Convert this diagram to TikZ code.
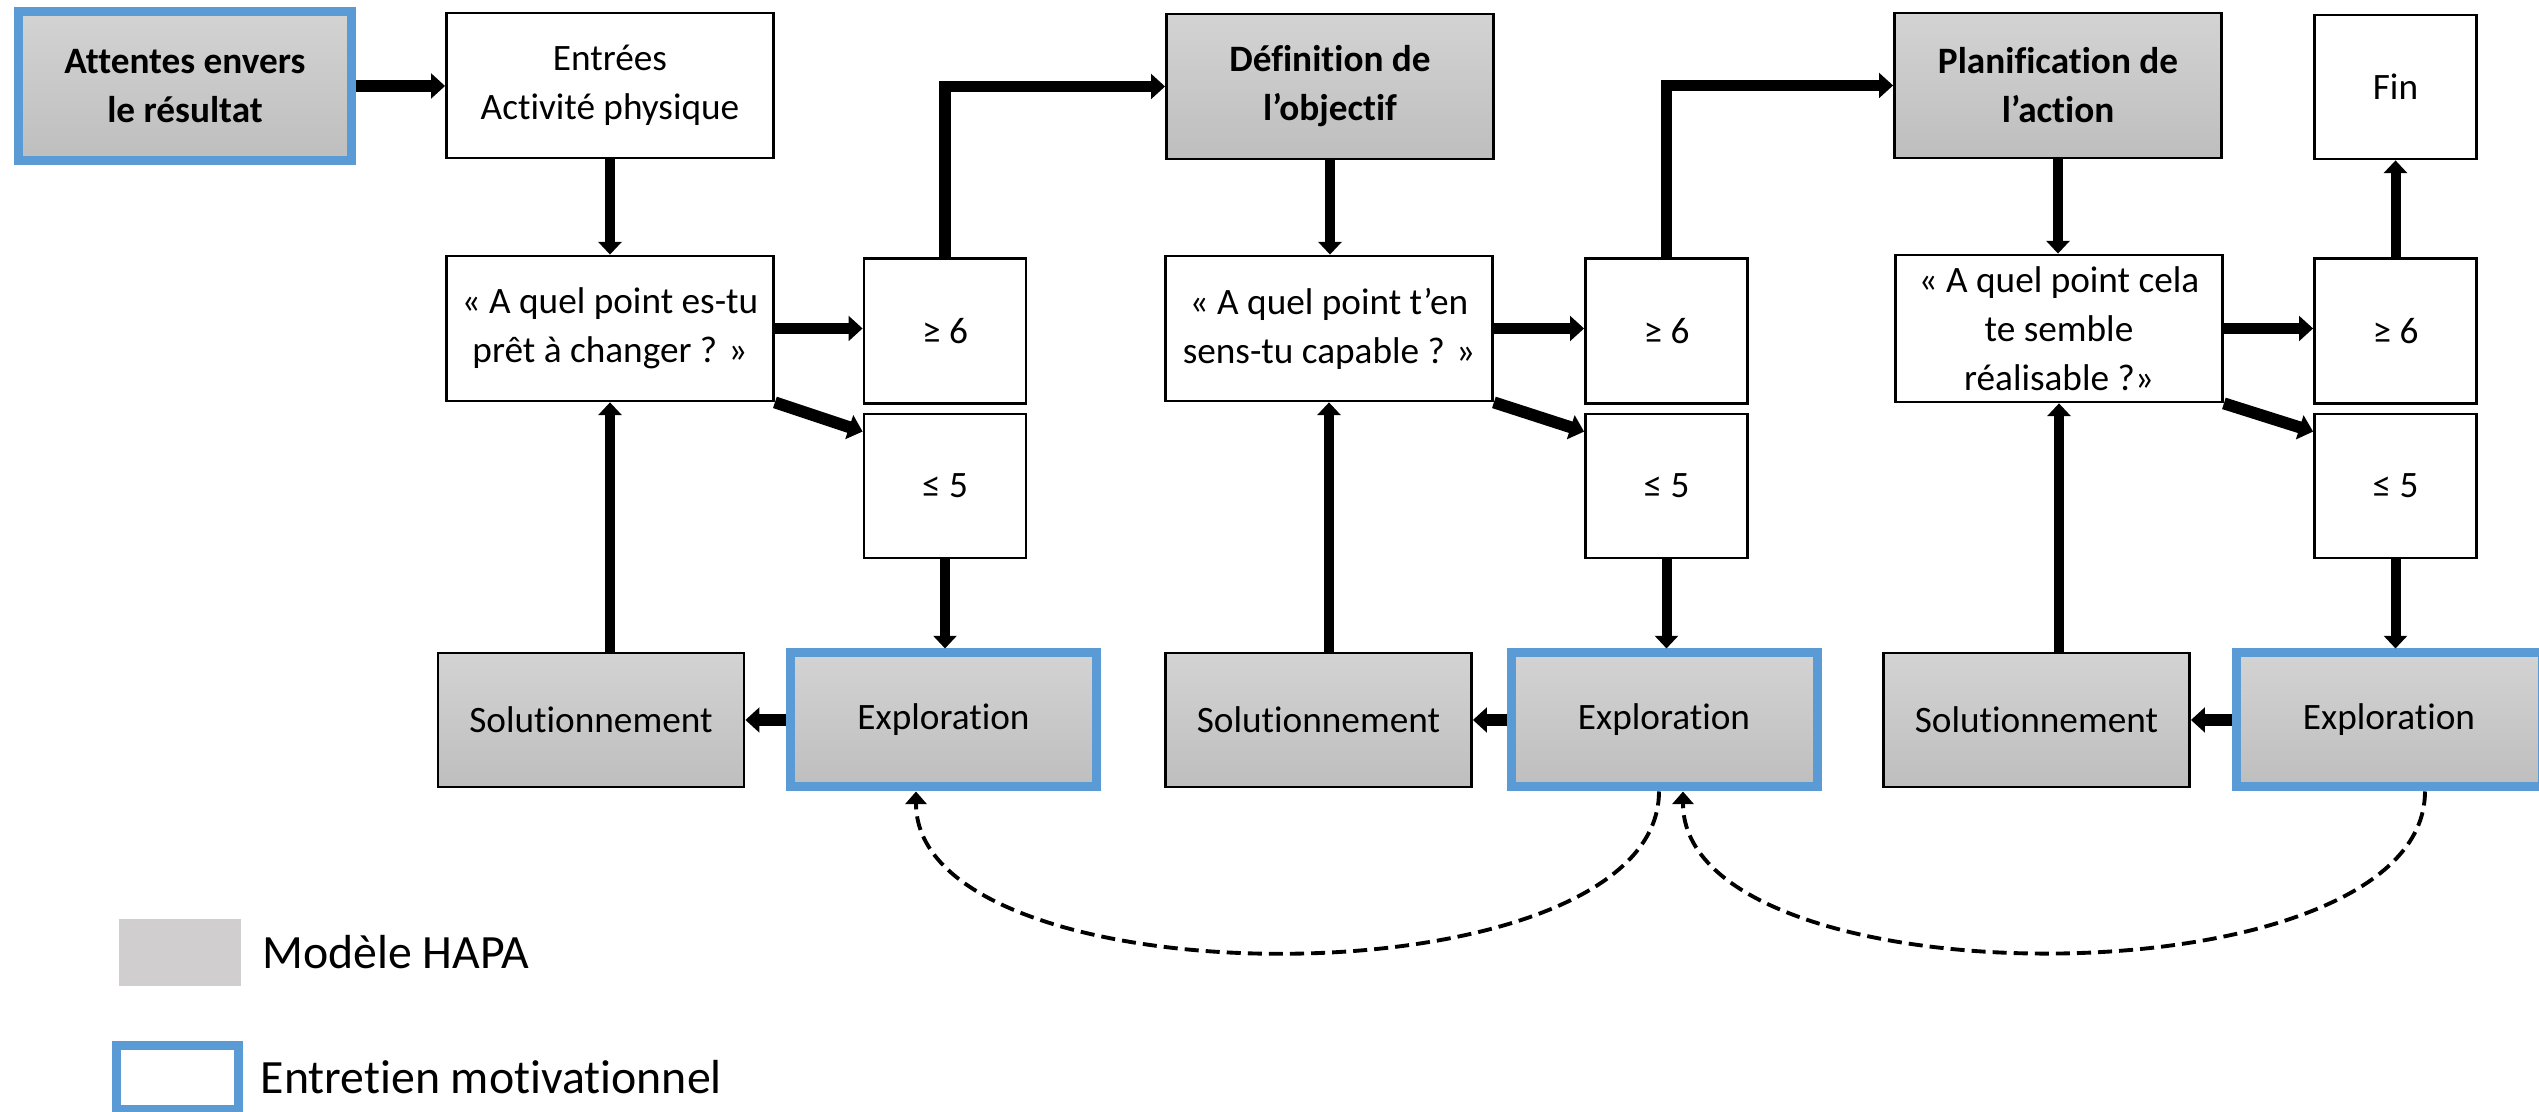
\documentclass[tikz,border=0pt]{standalone}
\usepackage{fontspec}
\setmainfont{Carlito}[Ligatures=NoCommon]
\usepackage{xcolor}
\usepackage{tikz}
\usetikzlibrary{arrows.meta,calc,positioning}

\definecolor{mibleu}{HTML}{5B9BD5}
\definecolor{grishaut}{HTML}{D3D3D3}
\definecolor{grisbas}{HTML}{BEBEBE}
\definecolor{grislegende}{HTML}{D0CECE}

\begin{document}
\begin{tikzpicture}[
    font={\fontsize{10.6}{13.9}\selectfont},
    boite/.style={draw=black, line width=0.8pt, align=center, inner sep=2pt},
    grande/.style={boite, minimum width=3.27cm, minimum height=1.45cm},
    petite/.style={boite, minimum width=1.62cm, minimum height=1.45cm},
    hapa/.style={grande, top color=grishaut, bottom color=grisbas, font={\fontsize{10.6}{13.9}\selectfont\bfseries}},
    basse/.style={boite, top color=grishaut, bottom color=grisbas, minimum width=3.06cm, minimum height=1.34cm},
    em/.style={draw=mibleu, line width=2.56pt},
    fl/.style={line width=2.85pt, -{Triangle[width=6.5pt,length=3.6pt]}},
    flg/.style={line width=3.4pt, -{Triangle[width=7pt,length=4pt]}},
    retour/.style={line width=1.1pt, dash pattern=on 4pt off 2pt, -{Triangle[width=6pt,length=3.6pt]}},
    legende/.style={font={\fontsize{13.6}{16}\selectfont}, inner sep=0pt},
]
\useasboundingbox (0,0) rectangle (25.39,11.12);

% rangee du haut
\node[hapa, em, minimum width=3.33cm, minimum height=1.49cm] (attentes) at (1.85,10.26) {Attentes envers\\le résultat};
\node[grande] (entrees) at (6.10,10.265) {Entrées\\Activité physique};
\node[hapa] (def) at (13.30,10.255) {Définition de\\l’objectif};
\node[hapa] (plan) at (20.58,10.265) {Planification de\\l’action};
\node[petite, minimum height=1.44cm] (fin) at (23.955,10.25) {Fin};

% questions
\node[grande] (q1) at (6.10,7.835) {« A quel point es-tu\\prêt à changer ? »};
\node[grande] (q2) at (13.29,7.835) {« A quel point t’en\\sens-tu capable ? »};
\node[grande, minimum height=1.47cm] (q3) at (20.59,7.835) {« A quel point cela\\te semble\\réalisable ?»};

\foreach \i/\gx/\sx/\ex in {1/9.45/5.91/9.435, 2/16.665/13.185/16.64, 3/23.955/20.365/23.89}{
    \node[petite] (ge\i) at (\gx,7.81) {≥ 6};
    \node[petite, minimum height=1.44cm] (le\i) at (\gx,6.26) {≤ 5};
    \node[basse] (sol\i) at (\sx,3.92) {Solutionnement};
    \node[basse, em] (expl\i) at (\ex,3.92) {Exploration};
}

\foreach \i in {1,2,3}{
    \draw[flg] (q\i.east) -- (q\i.east -| ge\i.west);
    \draw[flg] (q\i.south east) -- ([yshift=-0.19cm]le\i.north west);
    \draw[fl] (le\i.south) -- (le\i.south |- expl\i.north);
    \draw[flg] (expl\i.west) -- (sol\i.east);
    \draw[fl] (sol\i.north -| q\i.south) -- (q\i.south);
}

\draw[flg] (attentes.east) -- (attentes.east -| entrees.west);
\draw[fl] (entrees.south) -- (entrees.south |- q1.north);
\draw[fl] (def.south) -- (def.south |- q2.north);
\draw[fl] (plan.south) -- (plan.south |- q3.north);
\draw[flg] (ge1.north) |- (def.west);
\draw[flg] (ge2.north) |- (plan.west);
\draw[fl] (ge3.north) -- (ge3.north |- fin.south);

% retours vers l'exploration
\draw[retour] ([xshift=-0.05cm]expl2.south) to[out=-90,in=-90,looseness=0.74] ([xshift=-0.275cm]expl1.south);
\draw[retour] ([xshift=0.36cm]expl3.south) to[out=-90,in=-90,looseness=0.74] ([xshift=0.19cm]expl2.south);

% legende
\node[fill=grislegende, minimum width=1.22cm, minimum height=0.67cm, inner sep=0pt] (leghapa) at (1.80,1.595) {};
\node[legende, right=0.2cm of leghapa] (txthapa) {Modèle HAPA};
\node[draw=mibleu, line width=2.56pt, minimum width=1.22cm, minimum height=0.64cm, inner sep=0pt] (legem) at (1.775,0.345) {};
\node[legende, right=0.17cm of legem] (txtem) {Entretien motivationnel};

\end{tikzpicture}
\end{document}
